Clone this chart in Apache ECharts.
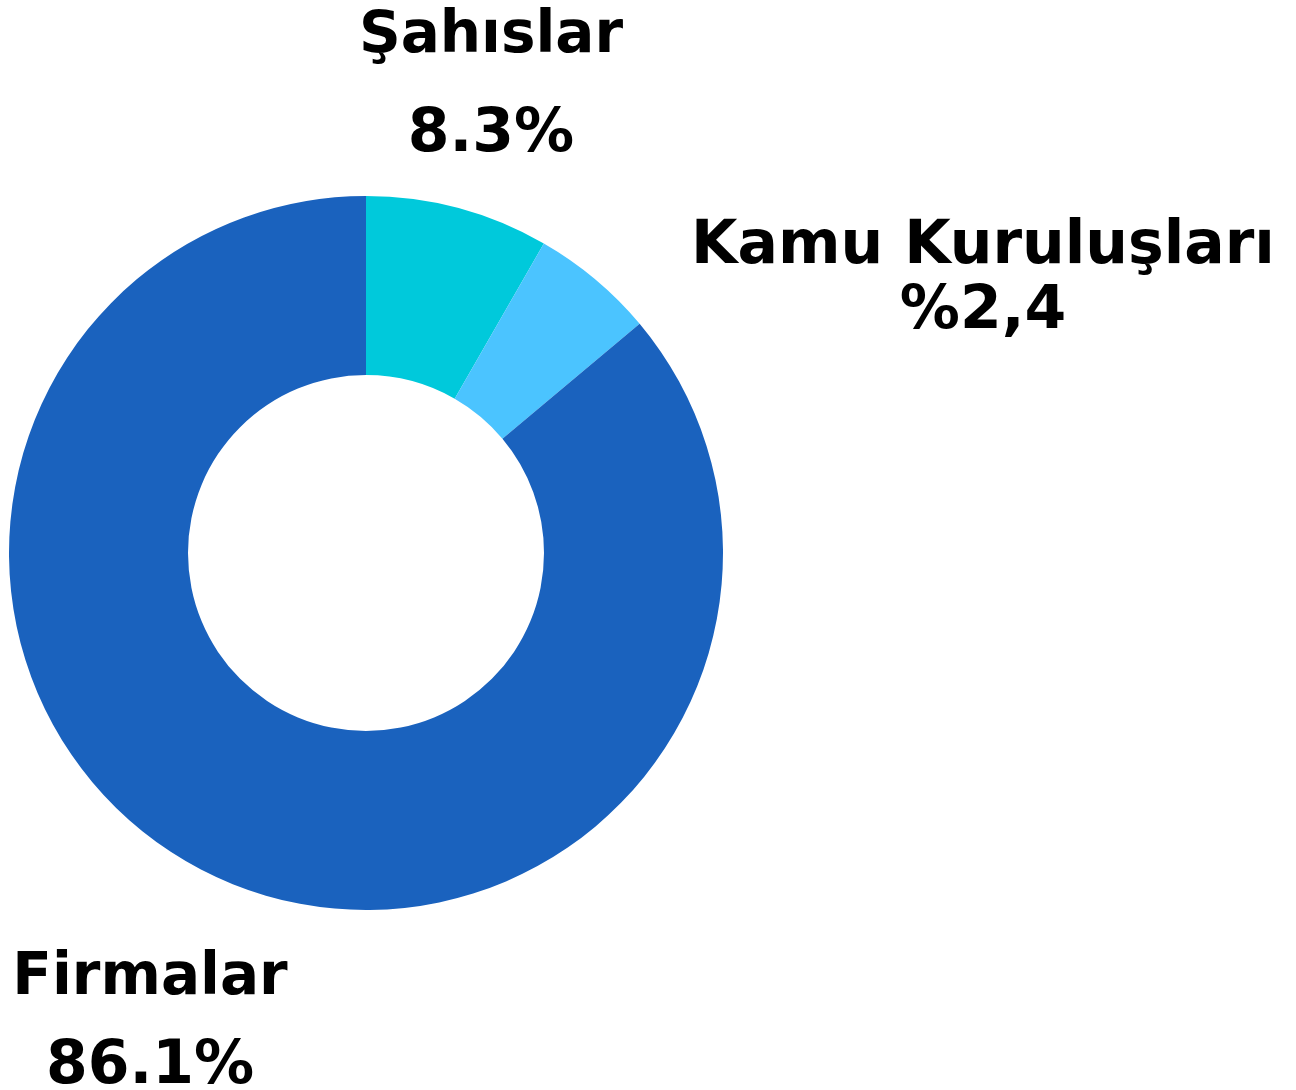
<!DOCTYPE html>
<html>
<head>
<meta charset="utf-8">
<script src="https://cdn.jsdelivr.net/npm/echarts@6/dist/echarts.min.js"></script>
<style>
  html, body { margin: 0; padding: 0; background: #fff; }
  #chart { width: 1296px; height: 1090px; }
</style>
</head>
<body>
<div id="chart"></div>
<script>
// veri
var names = ['Şahıslar', 'Kamu Kuruluşları', 'Firmalar']
var values = [8.3, 5.6, 86.1]
var valueLabels = ['8.3%', '%2,4', '86.1%']

var colors = ['#00C9DB', '#4BC4FF', '#1A62BE']
// etiket konumlari (merkez x, y) ve satir araligi
var labelPos = [[491, 86], [983, 280], [150, 1023]]
var lineGap = [98, 65, 88]

var FONT = 'DejaVu Sans'

var chart = echarts.init(document.getElementById('chart'))

var option = {
  animation: false,
  series: [{
    type: 'pie',
    center: [366, 553],
    radius: [178, 357],
    startAngle: 90,
    clockwise: true,
    avoidLabelOverlap: false,
    label: {
      show: true,
      color: '#000',
      fontFamily: FONT,
      fontWeight: 'bold',
      formatter: function (p) {
        return '{n|' + p.name + '}\n{v|' + valueLabels[p.dataIndex] + '}'
      }
    },
    labelLine: { show: false },
    labelLayout: function (p) {
      var pos = labelPos[p.dataIndex]
      return { x: pos[0], y: pos[1], align: 'center', verticalAlign: 'middle' }
    },
    emphasis: { disabled: true },
    data: names.map(function (n, i) {
      var h = lineGap[i]
      return {
        name: n,
        value: values[i],
        itemStyle: { color: colors[i] },
        label: {
          rich: {
            n: { fontFamily: FONT, fontWeight: 'bold', fontSize: i === 1 ? 60 : 58, lineHeight: h, color: '#000' },
            v: { fontFamily: FONT, fontWeight: 'bold', fontSize: i === 1 ? 60 : 60, lineHeight: h, color: '#000' }
          }
        }
      }
    })
  }]
}

chart.setOption(option)
</script>
</body>
</html>
